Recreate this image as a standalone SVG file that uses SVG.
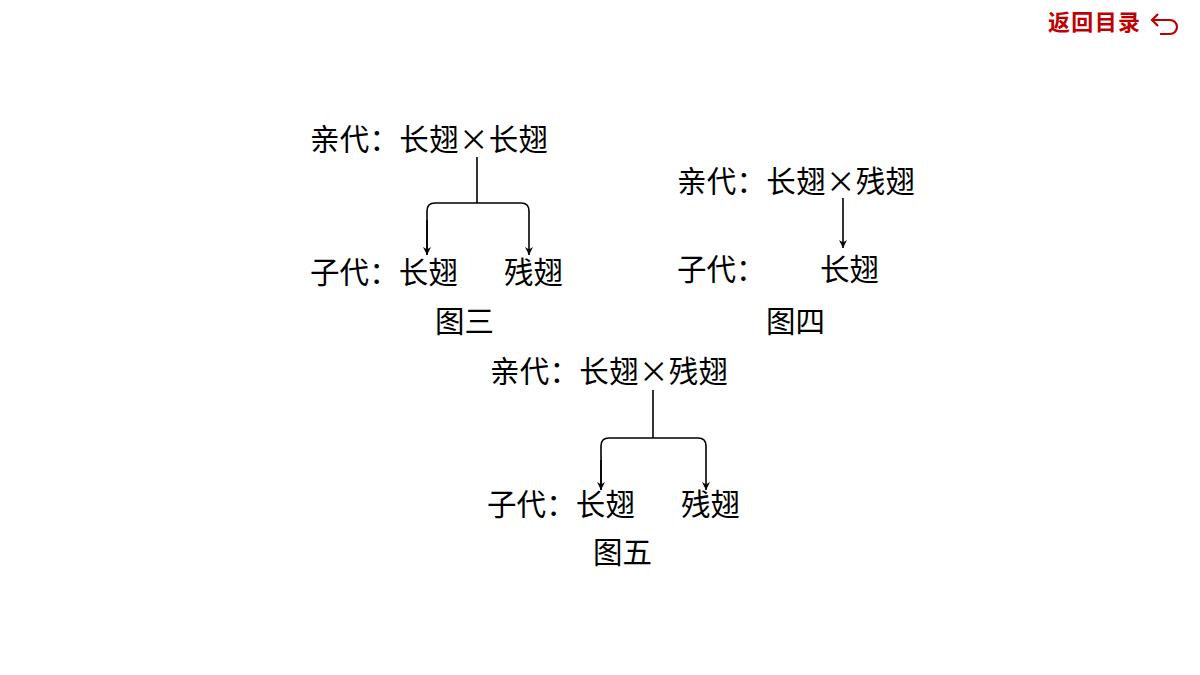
<svg xmlns="http://www.w3.org/2000/svg" width="1200" height="675" viewBox="0 0 1200 675">
<style>
.t{font-family:"Noto Sans CJK SC","Noto Sans",sans-serif;font-size:29.5px;fill:#000}
.c{fill:none;stroke:#000;stroke-width:1.6}
.nav{font-family:"Noto Sans CJK SC",sans-serif;font-size:22px;font-weight:bold;fill:#c00000}
</style>
<defs><marker id="a" viewBox="0 0 10 10" refX="10" refY="5" markerWidth="8" markerHeight="10" markerUnits="userSpaceOnUse" orient="auto"><path d="M0,0L10,5L0,10L3,5Z" fill="#000"/></marker></defs>
<rect width="1200" height="675" fill="#fff"/>
<g id="nav"><text class="nav" x="1048" y="30" textLength="92">返回目录</text>
<path d="M1158,14 L1152,20 L1158,26 M1152,20 H1170 A7,7 0 0 1 1170,34 H1160" fill="none" stroke="#c00000" stroke-width="2.2"/></g>
<g id="fig3">
<text class="t" x="310" y="150" textLength="238">亲代：长翅×长翅</text>
<text class="t" x="310" y="283" textLength="148">子代：长翅</text>
<text class="t" x="504" y="283">残翅</text>
<text class="t" x="435" y="332">图三</text>
</g>
<g id="fig4">
<text class="t" x="677" y="192" textLength="238">亲代：长翅×残翅</text>
<text class="t" x="677" y="280">子代：</text>
<text class="t" x="820" y="280">长翅</text>
<text class="t" x="766" y="332">图四</text>
</g>
<g id="fig5">
<text class="t" x="490" y="382" textLength="238">亲代：长翅×残翅</text>
<text class="t" x="487" y="515" textLength="148">子代：长翅</text>
<text class="t" x="681" y="515">残翅</text>
<text class="t" x="593" y="563">图五</text>
</g>
<g id="connectors">
<path class="c" d="M477,157V203"/>
<path class="c" d="M427,255V211Q427,203 435,203H521Q529,203 529,211V255" marker-end="url(#a)"/>
<path class="c" d="M427,220V255" marker-end="url(#a)"/>
<path class="c" d="M843,198V248" marker-end="url(#a)"/>
<path class="c" d="M653,390V438"/>
<path class="c" d="M601,490V446Q601,438 609,438H698Q706,438 706,446V490" marker-end="url(#a)"/>
<path class="c" d="M601,460V490" marker-end="url(#a)"/>
</g>
</svg>
